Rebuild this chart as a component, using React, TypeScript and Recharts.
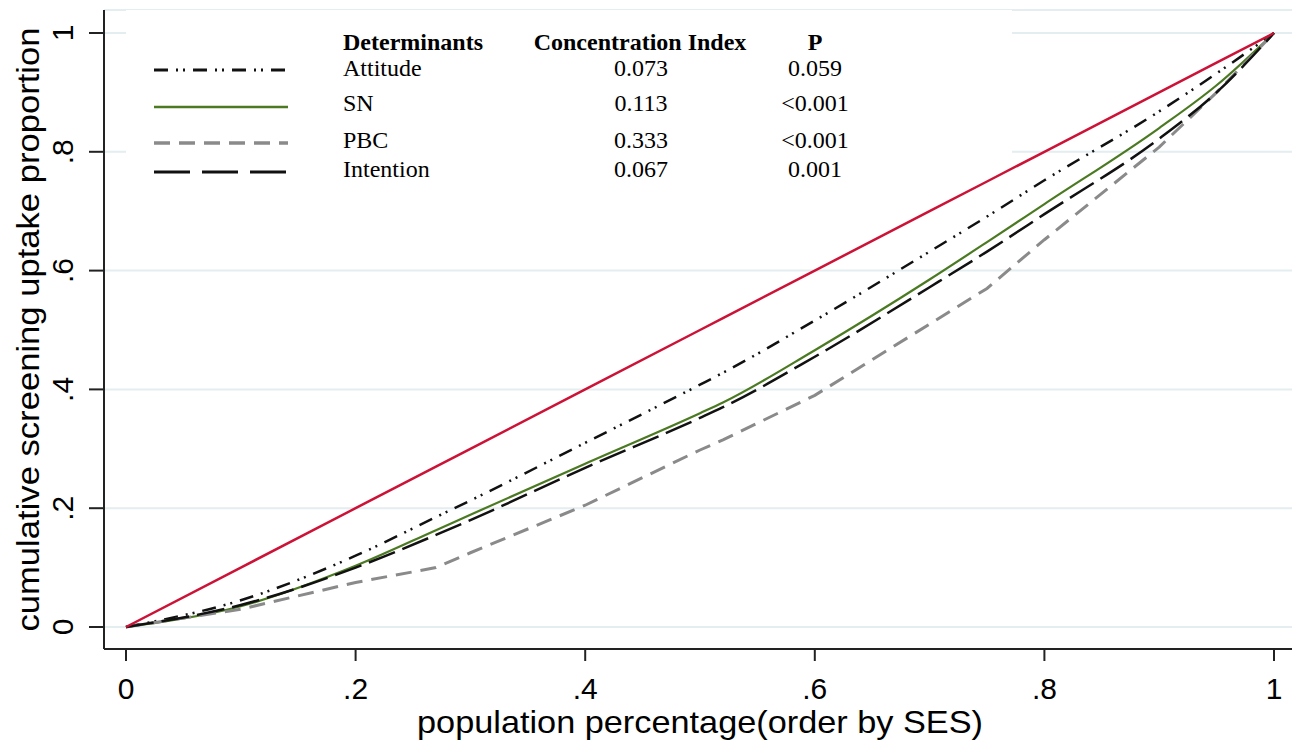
import { CartesianGrid, Label, Line, LineChart, XAxis, YAxis } from "recharts";

// population share (x) and cumulative uptake for each determinant
const POP_SHARE = [0, 0.1, 0.2, 0.27, 0.3, 0.4, 0.5, 0.52, 0.6, 0.7, 0.75, 0.8, 0.9, 0.95, 1];
const EQUALITY = [0, 0.1, 0.2, 0.27, 0.3, 0.4, 0.5, 0.52, 0.6, 0.7, 0.75, 0.8, 0.9, 0.95, 1];
const ATTITUDE = [0, 0.045, 0.12, 0.185, 0.213, 0.31, 0.408, 0.428, 0.516, 0.632, 0.691, 0.752, 0.868, 0.932, 1];
const SN = [0, 0.035, 0.103, 0.163, 0.189, 0.275, 0.36, 0.378, 0.466, 0.585, 0.648, 0.712, 0.84, 0.912, 1];
const PBC = [0, 0.03, 0.075, 0.1, 0.125, 0.205, 0.298, 0.315, 0.39, 0.51, 0.57, 0.652, 0.808, 0.9, 1];
const INTENTION = [0, 0.037, 0.1, 0.155, 0.18, 0.268, 0.352, 0.37, 0.455, 0.572, 0.632, 0.695, 0.822, 0.9, 1];

const TICKS = [0, 0.2, 0.4, 0.6, 0.8, 1];
const TICK_LABELS = ["0", ".2", ".4", ".6", ".8", "1"];

const LEGEND_NAMES = ["Attitude", "SN", "PBC", "Intention"];
const LEGEND_CI = ["0.073", "0.113", "0.333", "0.067"];
const LEGEND_P = ["0.059", "<0.001", "<0.001", "0.001"];

const STYLES: Record<string, { stroke: string; width: number; dash?: string }> = {
  attitude: { stroke: "#111", width: 2.5, dash: "14 8 2 5 2 8" },
  sn: { stroke: "#4b7a22", width: 2.2 },
  pbc: { stroke: "#8a8a8a", width: 3, dash: "16 9" },
  intention: { stroke: "#111", width: 2.5, dash: "28 8" },
  equality: { stroke: "#cc1236", width: 2.5 },
};
const SERIES_KEYS = ["attitude", "sn", "pbc", "intention"];

const rows = POP_SHARE.map((x, i) => ({
  x,
  equality: EQUALITY[i],
  attitude: ATTITUDE[i],
  sn: SN[i],
  pbc: PBC[i],
  intention: INTENTION[i],
}));

const SANS = "'Liberation Sans', Arial, sans-serif";
const SERIF = "'Liberation Serif', 'Times New Roman', serif";

function tickText(v: number) {
  const idx = TICKS.indexOf(v);
  return idx >= 0 ? TICK_LABELS[idx] : String(v);
}

function XTick(props: any) {
  const { x, y, payload } = props;
  return (
    <text x={x} y={y + 36} textAnchor="middle" fontSize={30} fontFamily={SANS} fill="#000">
      {tickText(payload.value)}
    </text>
  );
}

function YTick(props: any) {
  const { x, y, payload } = props;
  const bx = x - 14;
  return (
    <text
      x={bx}
      y={y}
      transform={`rotate(-90 ${bx} ${y})`}
      textAnchor="middle"
      fontSize={30}
      fontFamily={SANS}
      fill="#000"
    >
      {tickText(payload.value)}
    </text>
  );
}

function XTitle(props: any) {
  const vb = props.viewBox;
  return (
    <text
      x={vb.x + vb.width / 2 + 2}
      y={vb.y + 84}
      textAnchor="middle"
      fontSize={32}
      fontFamily={SANS}
      fill="#000"
      textLength={566}
      lengthAdjust="spacingAndGlyphs"
    >
      population percentage(order by SES)
    </text>
  );
}

function YTitle(props: any) {
  const vb = props.viewBox;
  const cx = vb.x + 39;
  const cy = vb.y + vb.height / 2;
  return (
    <text
      x={cx}
      y={cy}
      transform={`rotate(-90 ${cx} ${cy})`}
      textAnchor="middle"
      fontSize={32}
      fontFamily={SANS}
      fill="#000"
      textLength={604}
      lengthAdjust="spacingAndGlyphs"
    >
      cumulative screening uptake proportion
    </text>
  );
}

// legend table drawn as an overlay box (white, hides the gridlines like the original)
function LegendTable() {
  const rowY = [58, 93, 130, 159];
  const lineY = [60, 97, 133, 162];
  const txt = (s: string, left: number, top: number, center = false, bold = false) => (
    <span
      key={s + left + top}
      style={{
        position: "absolute",
        left: center ? left - 120 : left,
        width: center ? 240 : undefined,
        textAlign: center ? "center" : "left",
        top: top - 14,
        lineHeight: "28px",
        fontWeight: bold ? "bold" : "normal",
        whiteSpace: "nowrap",
      }}
    >
      {s}
    </span>
  );
  return (
    <div
      style={{
        position: "absolute",
        left: 126,
        top: 10,
        width: 886,
        height: 155,
        background: "#fff",
        fontFamily: SERIF,
        fontSize: 24,
        color: "#000",
      }}
    >
      <svg width={886} height={180} style={{ position: "absolute", left: 0, top: 0, overflow: "visible" }}>
        {SERIES_KEYS.map((k, i) => (
          <line
            key={k}
            x1={28}
            x2={162}
            y1={lineY[i]}
            y2={lineY[i]}
            stroke={STYLES[k].stroke}
            strokeWidth={STYLES[k].width + 0.5}
            strokeDasharray={k === "intention" ? "36 12" : STYLES[k].dash}
          />
        ))}
      </svg>
      {txt("Determinants", 217, 32, false, true)}
      {txt("Concentration Index", 514, 32, true, true)}
      {txt("P", 689, 32, true, true)}
      {LEGEND_NAMES.map((n, i) => txt(n, 217, rowY[i]))}
      {LEGEND_CI.map((v, i) => txt(v, 515, rowY[i], true))}
      {LEGEND_P.map((v, i) => txt(v, 689, rowY[i], true))}
    </div>
  );
}

export default function App() {
  return (
    <div style={{ position: "absolute", left: 0, top: 0, width: 1292, height: 742, background: "#fff" }}>
      <LineChart width={1292} height={742} data={rows} margin={{ top: 10, right: 0, bottom: 0, left: 0 }}>
        <CartesianGrid vertical={false} stroke="#e4edef" strokeWidth={2} />
        <XAxis
          type="number"
          dataKey="x"
          domain={[0, 1]}
          ticks={TICKS}
          interval={0}
          padding={{ left: 22, right: 18 }}
          height={93}
          tickSize={12}
          axisLine={{ stroke: "#222", strokeWidth: 2 }}
          tickLine={{ stroke: "#222", strokeWidth: 2 }}
          tick={<XTick />}
        >
          <Label content={<XTitle />} />
        </XAxis>
        <YAxis
          type="number"
          domain={[0, 1]}
          ticks={TICKS}
          interval={0}
          padding={{ top: 23, bottom: 22 }}
          width={104}
          tickSize={15}
          axisLine={{ stroke: "#222", strokeWidth: 2 }}
          tickLine={{ stroke: "#222", strokeWidth: 2 }}
          tick={<YTick />}
        >
          <Label content={<YTitle />} />
        </YAxis>
        {SERIES_KEYS.map((k) => (
          <Line
            key={k}
            dataKey={k}
            type={k === "pbc" ? "linear" : "monotone"}
            stroke={STYLES[k].stroke}
            strokeWidth={STYLES[k].width}
            strokeDasharray={STYLES[k].dash}
            dot={false}
            activeDot={false}
            isAnimationActive={false}
          />
        ))}
        <Line
          dataKey="equality"
          type="linear"
          stroke={STYLES.equality.stroke}
          strokeWidth={STYLES.equality.width}
          dot={false}
          activeDot={false}
          isAnimationActive={false}
        />
      </LineChart>
      <LegendTable />
    </div>
  );
}
